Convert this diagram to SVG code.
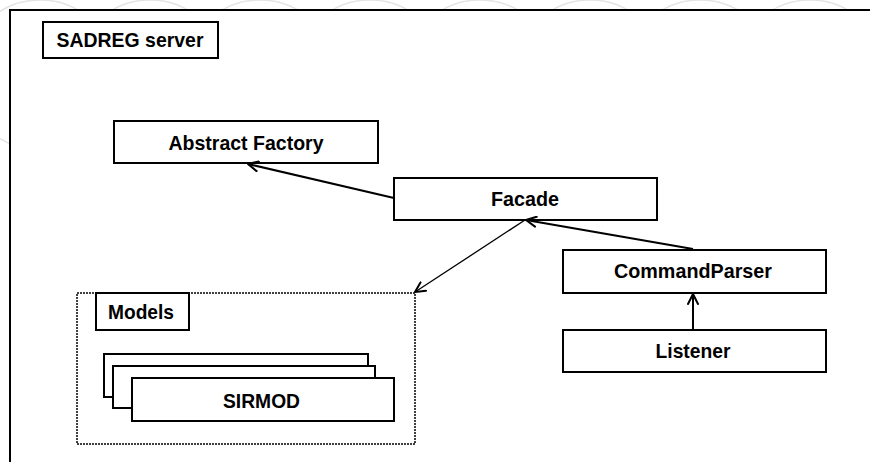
<svg xmlns="http://www.w3.org/2000/svg" width="870" height="462" viewBox="0 0 870 462">
<defs>
<style>
.box{fill:#fff;stroke:#000;stroke-width:2}
.lbl{font-family:"Liberation Sans",Arial,sans-serif;font-weight:bold;font-size:20.5px;fill:#000;text-anchor:middle}
.wm{fill:none;stroke:#e4e4e4;stroke-width:1.5}
.con{fill:none;stroke:#000;stroke-width:2}
.thin{fill:none;stroke:#000;stroke-width:1.3}
.head{fill:none;stroke:#000;stroke-width:2;stroke-linecap:round;stroke-linejoin:round}
</style>
<marker id="open" viewBox="0 0 12 12" refX="11" refY="6" markerWidth="12" markerHeight="12" markerUnits="userSpaceOnUse" orient="auto">
<path d="M1,1 L11,6 L1,11" class="head"/>
</marker>
</defs>
<rect width="870" height="462" fill="#fff"/>
<g id="watermark">
<circle class="wm" cx="40" cy="75" r="75"/>
<circle class="wm" cx="150" cy="75" r="75"/>
<circle class="wm" cx="260" cy="75" r="75"/>
<circle class="wm" cx="370" cy="75" r="75"/>
<circle class="wm" cx="480" cy="75" r="75"/>
<circle class="wm" cx="590" cy="75" r="75"/>
<circle class="wm" cx="700" cy="75" r="75"/>
<circle class="wm" cx="810" cy="75" r="75"/>
<circle class="wm" cx="920" cy="75" r="75"/>
</g>
<g id="frame">
<path d="M10,10 H872 V470 H10 Z" fill="#fff" stroke="#000" stroke-width="2"/>
</g>
<g id="title">
<rect class="box" x="43" y="22" width="175" height="36"/>
<text class="lbl" x="130" y="47" textLength="147" lengthAdjust="spacingAndGlyphs">SADREG server</text>
</g>
<g id="abstract-factory">
<rect class="box" x="114" y="121" width="264" height="42"/>
<text class="lbl" x="246" y="150" textLength="155" lengthAdjust="spacingAndGlyphs">Abstract Factory</text>
</g>
<g id="facade">
<rect class="box" x="394" y="178" width="263" height="42"/>
<text class="lbl" x="525" y="206" textLength="68" lengthAdjust="spacingAndGlyphs">Facade</text>
</g>
<g id="command-parser">
<rect class="box" x="563" y="250" width="263" height="43"/>
<text class="lbl" x="693" y="278" textLength="158" lengthAdjust="spacingAndGlyphs">CommandParser</text>
</g>
<g id="listener">
<rect class="box" x="563" y="330" width="263" height="42"/>
<text class="lbl" x="693" y="358" textLength="75" lengthAdjust="spacingAndGlyphs">Listener</text>
</g>
<g id="models">
<rect x="77" y="293" width="338" height="151" fill="#fff" stroke="#000" stroke-width="1.5" stroke-dasharray="2 1"/>
<rect class="box" x="96" y="293" width="93" height="37"/>
<text class="lbl" x="141" y="319" textLength="66" lengthAdjust="spacingAndGlyphs">Models</text>
<rect class="box" x="104" y="354" width="264" height="43"/>
<rect class="box" x="113" y="366" width="262" height="42"/>
<rect class="box" x="132" y="378" width="262" height="43"/>
<text class="lbl" x="261.5" y="408" textLength="77" lengthAdjust="spacingAndGlyphs">SIRMOD</text>
</g>
<g id="connectors">
<line class="con" x1="394" y1="198" x2="248" y2="164" marker-end="url(#open)"/>
<line class="con" x1="693" y1="249" x2="526" y2="220" marker-end="url(#open)"/>
<line class="thin" x1="525" y1="220" x2="415" y2="292" marker-end="url(#open)"/>
<line class="con" x1="693" y1="330" x2="693" y2="294" marker-end="url(#open)"/>
</g>
</svg>
